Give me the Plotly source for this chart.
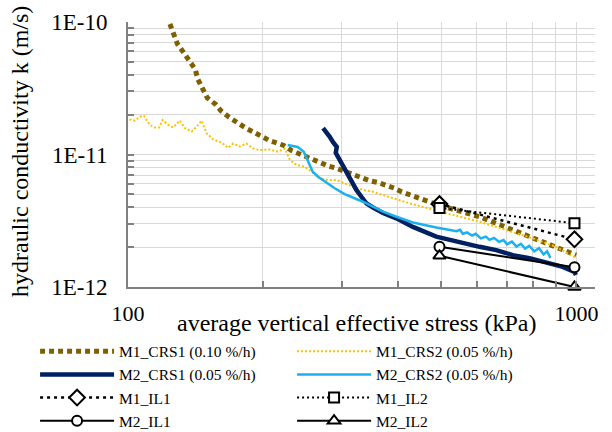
import plotly.graph_objects as go

# ---------------- data ----------------
# M1_CRS1 (0.10 %/h)
m1_crs1_s = [124.0, 126.1, 129.0, 133.1, 137.6, 141.2, 143.2, 146.9, 150.2, 156.8, 161.3, 168.1,
             175.8, 183.2, 191.1, 198.8, 207.2, 213.6, 222.6, 231.6, 239.4, 254.3, 266.7, 279.9,
             291.6, 304.2, 317.6, 334.2, 345.9, 362.8, 375.5, 393.2, 406.9, 491.0, 608.1, 721.3,
             856.0, 998.5]
m1_crs1_k = [9.66e-11, 8.08e-11, 6.79e-11, 5.87e-11, 5.08e-11, 4.40e-11, 3.69e-11, 3.16e-11,
             2.68e-11, 2.39e-11, 2.13e-11, 1.91e-11, 1.72e-11, 1.58e-11, 1.47e-11, 1.36e-11,
             1.27e-11, 1.23e-11, 1.17e-11, 1.07e-11, 1.02e-11, 9.20e-12, 8.67e-12, 8.19e-12,
             7.87e-12, 7.42e-12, 7.00e-12, 6.61e-12, 6.34e-12, 6.12e-12, 5.89e-12, 5.56e-12,
             5.24e-12, 4.16e-12, 3.39e-12, 2.69e-12, 2.14e-12, 1.74e-12]

# M1_CRS2 (0.05 %/h)
m1_crs2_s = [100.7, 103.7, 106.3, 108.5, 111.9, 114.9, 117.4, 119.5, 123.0, 126.1, 130.5, 134.0,
             138.7, 142.2, 145.9, 149.7, 154.9, 161.7, 167.3, 171.6, 177.6, 183.8, 190.1, 196.1,
             207.2, 216.1, 223.7, 229.6, 237.5, 247.9, 256.6, 267.7, 279.3, 291.6, 304.2, 317.6,
             334.2, 351.8, 370.4, 389.8, 424.6, 512.8, 608.1, 697.3, 799.1, 901.0, 998.5]
m1_crs2_k = [1.84e-11, 1.80e-11, 1.93e-11, 1.96e-11, 1.67e-11, 1.60e-11, 1.60e-11, 1.82e-11,
             1.67e-11, 1.60e-11, 1.80e-11, 1.58e-11, 1.49e-11, 1.62e-11, 1.80e-11, 1.45e-11,
             1.30e-11, 1.23e-11, 1.12e-11, 1.21e-11, 1.15e-11, 1.21e-11, 1.11e-11, 1.08e-11,
             1.09e-11, 1.05e-11, 1.11e-11, 9.09e-12, 8.33e-12, 8.09e-12, 7.42e-12, 6.61e-12,
             6.42e-12, 6.42e-12, 6.06e-12, 5.71e-12, 5.40e-12, 5.24e-12, 4.94e-12, 4.67e-12,
             4.28e-12, 3.60e-12, 3.11e-12, 2.69e-12, 2.33e-12, 2.01e-12, 1.65e-12]

# M2_CRS1 (0.05 %/h)
m2_crs1_s = [272.3, 278.9, 281.8, 286.6, 292.1, 290.6, 296.6, 301.6, 309.4, 315.4, 323.1, 331.5,
             340.1, 351.8, 370.4, 396.7, 431.9, 486.9, 558.1, 608.1, 662.6, 721.3, 785.8, 856.0,
             932.2, 989.7, 997.5]
m2_crs1_k = [1.58e-11, 1.45e-11, 1.36e-11, 1.24e-11, 1.14e-11, 1.03e-11, 9.09e-12, 7.91e-12,
             6.80e-12, 6.06e-12, 5.40e-12, 4.80e-12, 4.28e-12, 3.98e-12, 3.62e-12, 3.30e-12,
             2.84e-12, 2.40e-12, 2.14e-12, 2.01e-12, 1.90e-12, 1.74e-12, 1.65e-12, 1.52e-12,
             1.42e-12, 1.30e-12, 1.23e-12]

# M2_CRS2 (0.05 %/h)
m2_crs2_s = [227.1, 239.0, 246.6, 251.7, 258.2, 265.4, 277.0, 289.1, 304.2, 317.6, 334.2, 351.8,
             370.4, 396.7, 431.9, 486.9, 520.0, 540.0, 550.0, 558.0, 570.0, 585.0, 596.0, 612.0,
             628.0, 640.0, 655.0, 672.0, 688.0, 700.0, 718.0, 735.0, 752.0, 768.0, 785.0, 805.0,
             825.0, 845.0, 860.0, 875.0]
m2_crs2_k = [1.18e-11, 1.14e-11, 1.05e-11, 9.09e-12, 7.42e-12, 6.80e-12, 6.12e-12, 5.56e-12,
             5.03e-12, 4.75e-12, 4.40e-12, 4.04e-12, 3.70e-12, 3.39e-12, 3.07e-12, 2.81e-12,
             2.70e-12, 2.64e-12, 2.70e-12, 2.52e-12, 2.58e-12, 2.44e-12, 2.52e-12, 2.33e-12,
             2.40e-12, 2.27e-12, 2.35e-12, 2.19e-12, 2.26e-12, 2.10e-12, 2.20e-12, 2.02e-12,
             2.12e-12, 1.95e-12, 2.04e-12, 1.86e-12, 1.96e-12, 1.76e-12, 1.86e-12, 1.66e-12]

# incremental loading tests
il_s = [495.0, 990.0]
m1_il1_k = [4.23e-12, 2.29e-12]
m1_il2_k = [3.95e-12, 3.03e-12]
m2_il1_k = [2.01e-12, 1.41e-12]
m2_il2_k = [1.72e-12, 1.00e-12]

x_tickvals = [100, 200, 300, 400, 500, 600, 700, 800, 900, 1000]
x_ticktext = ['100', '', '', '', '', '', '', '', '', '1000']
y_tickvals = [1e-12, 2e-12, 3e-12, 4e-12, 5e-12, 6e-12, 7e-12, 8e-12, 9e-12,
              1e-11, 2e-11, 3e-11, 4e-11, 5e-11, 6e-11, 7e-11, 8e-11, 9e-11, 1e-10]
y_ticktext = ['1E-12', '', '', '', '', '', '', '', '',
              '1E-11', '', '', '', '', '', '', '', '', '1E-10']

FONT = 'Liberation Serif'

fig = go.Figure()
fig.add_trace(go.Scatter(x=m1_crs1_s, y=m1_crs1_k, mode='lines', name='M1_CRS1 (0.10 %/h)',
                         line=dict(color='#7f6000', width=5, dash='5px,4px')))
fig.add_trace(go.Scatter(x=m1_crs2_s, y=m1_crs2_k, mode='lines', name='M1_CRS2 (0.05 %/h)',
                         line=dict(color='#ffc000', width=2, dash='2px,2px')))
fig.add_trace(go.Scatter(x=m2_crs1_s, y=m2_crs1_k, mode='lines', name='M2_CRS1 (0.05 %/h)',
                         line=dict(color='#002060', width=4.5)))
fig.add_trace(go.Scatter(x=m2_crs2_s, y=m2_crs2_k, mode='lines', name='M2_CRS2 (0.05 %/h)',
                         line=dict(color='#1cb0ec', width=2.5)))
fig.add_trace(go.Scatter(x=il_s, y=m1_il1_k, mode='lines+markers', name='M1_IL1',
                         line=dict(color='black', width=2.5, dash='3px,4px'),
                         marker=dict(symbol='diamond', size=12, color='white',
                                     line=dict(color='black', width=2)), cliponaxis=False))
fig.add_trace(go.Scatter(x=il_s, y=m1_il2_k, mode='lines+markers', name='M1_IL2',
                         line=dict(color='black', width=2, dash='2px,3px'),
                         marker=dict(symbol='square', size=10, color='white',
                                     line=dict(color='black', width=2)), cliponaxis=False))
fig.add_trace(go.Scatter(x=il_s, y=m2_il1_k, mode='lines+markers', name='M2_IL1',
                         line=dict(color='black', width=2),
                         marker=dict(symbol='circle', size=10, color='white',
                                     line=dict(color='black', width=2)), cliponaxis=False))
fig.add_trace(go.Scatter(x=il_s, y=m2_il2_k, mode='lines+markers', name='M2_IL2',
                         line=dict(color='black', width=2),
                         marker=dict(symbol='triangle-up', size=11, color='white',
                                     line=dict(color='black', width=2)), cliponaxis=False))

fig.update_xaxes(type='log', range=[2, 3.0414], tickvals=x_tickvals, ticktext=x_ticktext,
                 showgrid=True, gridcolor='#d9d9d9', gridwidth=1,
                 showline=True, linecolor='#808080', linewidth=2,
                 ticks='inside', ticklen=6, tickcolor='#808080', tickwidth=1.5,
                 ticklabelstandoff=6, tickfont=dict(family=FONT, size=22, color='black'),
                 zeroline=False)
fig.update_yaxes(type='log', range=[-12, -10], tickvals=y_tickvals, ticktext=y_ticktext,
                 showgrid=True, gridcolor='#d9d9d9', gridwidth=1,
                 showline=True, linecolor='#808080', linewidth=2,
                 ticks='inside', ticklen=6, tickcolor='#808080', tickwidth=1.5,
                 ticklabelstandoff=14, tickfont=dict(family=FONT, size=23, color='black'),
                 zeroline=False)

fig.add_annotation(text='average vertical effective stress (kPa)', xref='paper', yref='paper',
                   x=0.49, y=-0.135, xanchor='center', yanchor='middle', showarrow=False,
                   font=dict(family=FONT, size=24, color='black'))
fig.add_annotation(text='hydraulic conductivity k (m/s)', xref='paper', yref='paper',
                   x=-0.231, y=0.51, xanchor='center', yanchor='middle', textangle=-90,
                   showarrow=False, font=dict(family=FONT, size=24, color='black'))

fig.update_layout(
    width=612, height=432,
    margin=dict(l=128, r=17, t=22, b=145, autoexpand=False),
    plot_bgcolor='white', paper_bgcolor='white',
    font=dict(family=FONT, color='black'),
    legend=dict(orientation='h', x=-0.199, xanchor='left', y=-0.18, yanchor='top',
                entrywidth=168, entrywidthmode='pixels', itemwidth=74,
                font=dict(family=FONT, size=15.5, color='black'),
                traceorder='normal', bgcolor='rgba(0,0,0,0)'),
)

fig.write_html('out.html', config={'displayModeBar': False},
               post_script="document.body.style.margin='0';")
